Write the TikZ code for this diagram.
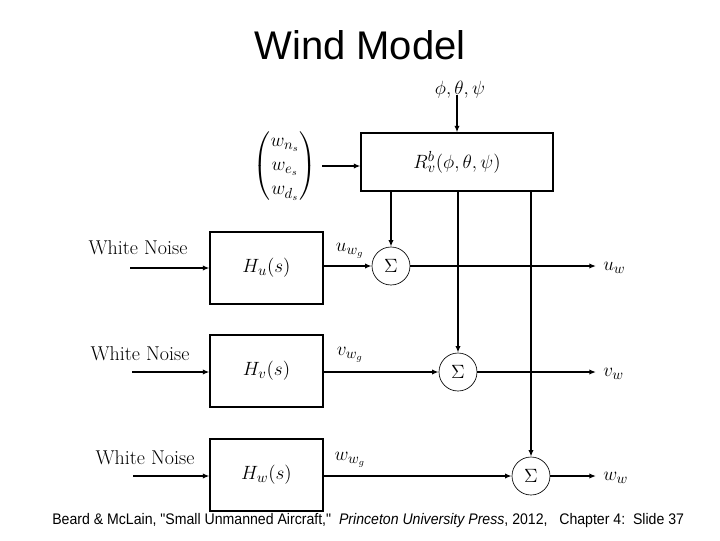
\documentclass[tikz,border=0pt]{standalone}
\usepackage{amsmath}
\usepackage{fontspec}
\newfontfamily\arialfont{Liberation Sans}
\usetikzlibrary{arrows.meta}
\tikzset{
  px/.style={x=0.75pt,y=-0.75pt},
  blockbox/.style={draw,line width=0.8pt,minimum width=84.75pt,minimum height=54pt,inner sep=0pt,font=\fontsize{15}{18}\selectfont},
  rotbox/.style={draw,line width=0.8pt,minimum width=144pt,minimum height=43.5pt,inner sep=0pt,font=\fontsize{15}{18}\selectfont},
  sumnode/.style={draw,circle,line width=0.5pt,minimum size=28.5pt,inner sep=0pt,font=\fontsize{15}{18}\selectfont},
  lbl/.style={inner sep=0pt,font=\fontsize{15}{18}\selectfont},
  sig/.style={line width=1.4pt,-{Latex[length=5pt,width=4pt]}},
  plain/.style={line width=1.4pt}
}
\begin{document}
\begin{tikzpicture}[px]
\useasboundingbox (0,0) rectangle (720,540);
\node[font=\arialfont\fontsize{30}{36}\selectfont] (title) at (360,45) {Wind Model};

\node[lbl] (euler) at (460,90) {$\phi,\theta,\psi$};
\node[rotbox] (R) at (457,162) {$R_v^b(\phi,\theta,\psi)$};
\node[lbl] (vec) at (285,166) {$\begin{pmatrix} w_{n_s}\\ w_{e_s}\\ w_{d_s}\end{pmatrix}$};

\node[lbl] (wn1) at (138,248) {White Noise};
\node[lbl] (wn2) at (140,354) {White Noise};
\node[lbl] (wn3) at (145,458) {White Noise};
\coordinate (s1) at (130,268);
\coordinate (s2) at (132,372);
\coordinate (s3) at (133,476);

\node[blockbox] (Hu) at (266.5,268) {$H_u(s)$};
\node[blockbox] (Hv) at (266.5,371) {$H_v(s)$};
\node[blockbox] (Hw) at (266.5,475) {$H_w(s)$};

\node[sumnode] (S1) at (391,266) {$\Sigma$};
\node[sumnode] (S2) at (458,372) {$\Sigma$};
\node[sumnode] (S3) at (531,476) {$\Sigma$};

\node[lbl] (ug) at (350,251) {$u_{w_g}$};
\node[lbl] (vg) at (350,355) {$v_{w_g}$};
\node[lbl] (wg) at (350,460) {$w_{w_g}$};

\coordinate (e1) at (596,266);
\coordinate (e2) at (596,372);
\coordinate (e3) at (596,476);
\node[lbl,anchor=west] (uw) at (603,268) {$u_w$};
\node[lbl,anchor=west] (vw) at (603,374) {$v_w$};
\node[lbl,anchor=west] (ww) at (603,478) {$w_w$};

\draw[sig] (euler.south -| R.north) ++(0,-4) -- (R.north);
\draw[sig] (vec.east) ++(6,0) -- (R.west |- 0,166);

\draw[sig] (s1) -- (Hu.west |- s1);
\draw[sig] (s2) -- (Hv.west |- s2);
\draw[sig] (s3) -- (Hw.west |- s3);

\draw[sig] (Hu.east |- S1) -- (S1.west);
\draw[sig] (Hv.east |- S2) -- (S2.west);
\draw[sig] (Hw.east |- S3) -- (S3.west);

\draw[sig] (S1.north |- R.south) -- (S1.north);
\draw[sig] (S2.north |- R.south) -- (S2.north);
\draw[sig] (S3.north |- R.south) -- (S3.north);

\draw[sig] (S1.east) -- (e1);
\draw[sig] (S2.east) -- (e2);
\draw[sig] (S3.east) -- (e3);

\node[anchor=west,inner sep=0pt,font=\arialfont\fontsize{11.5}{14}\selectfont] (foot) at (52,521) {\scalebox{0.92}[1]{Beard \& McLain, "Small Unmanned Aircraft,"\ \ \textit{Princeton University Press}, 2012,\ \ \ Chapter 4:\ \ Slide 37}};
\end{tikzpicture}
\end{document}
